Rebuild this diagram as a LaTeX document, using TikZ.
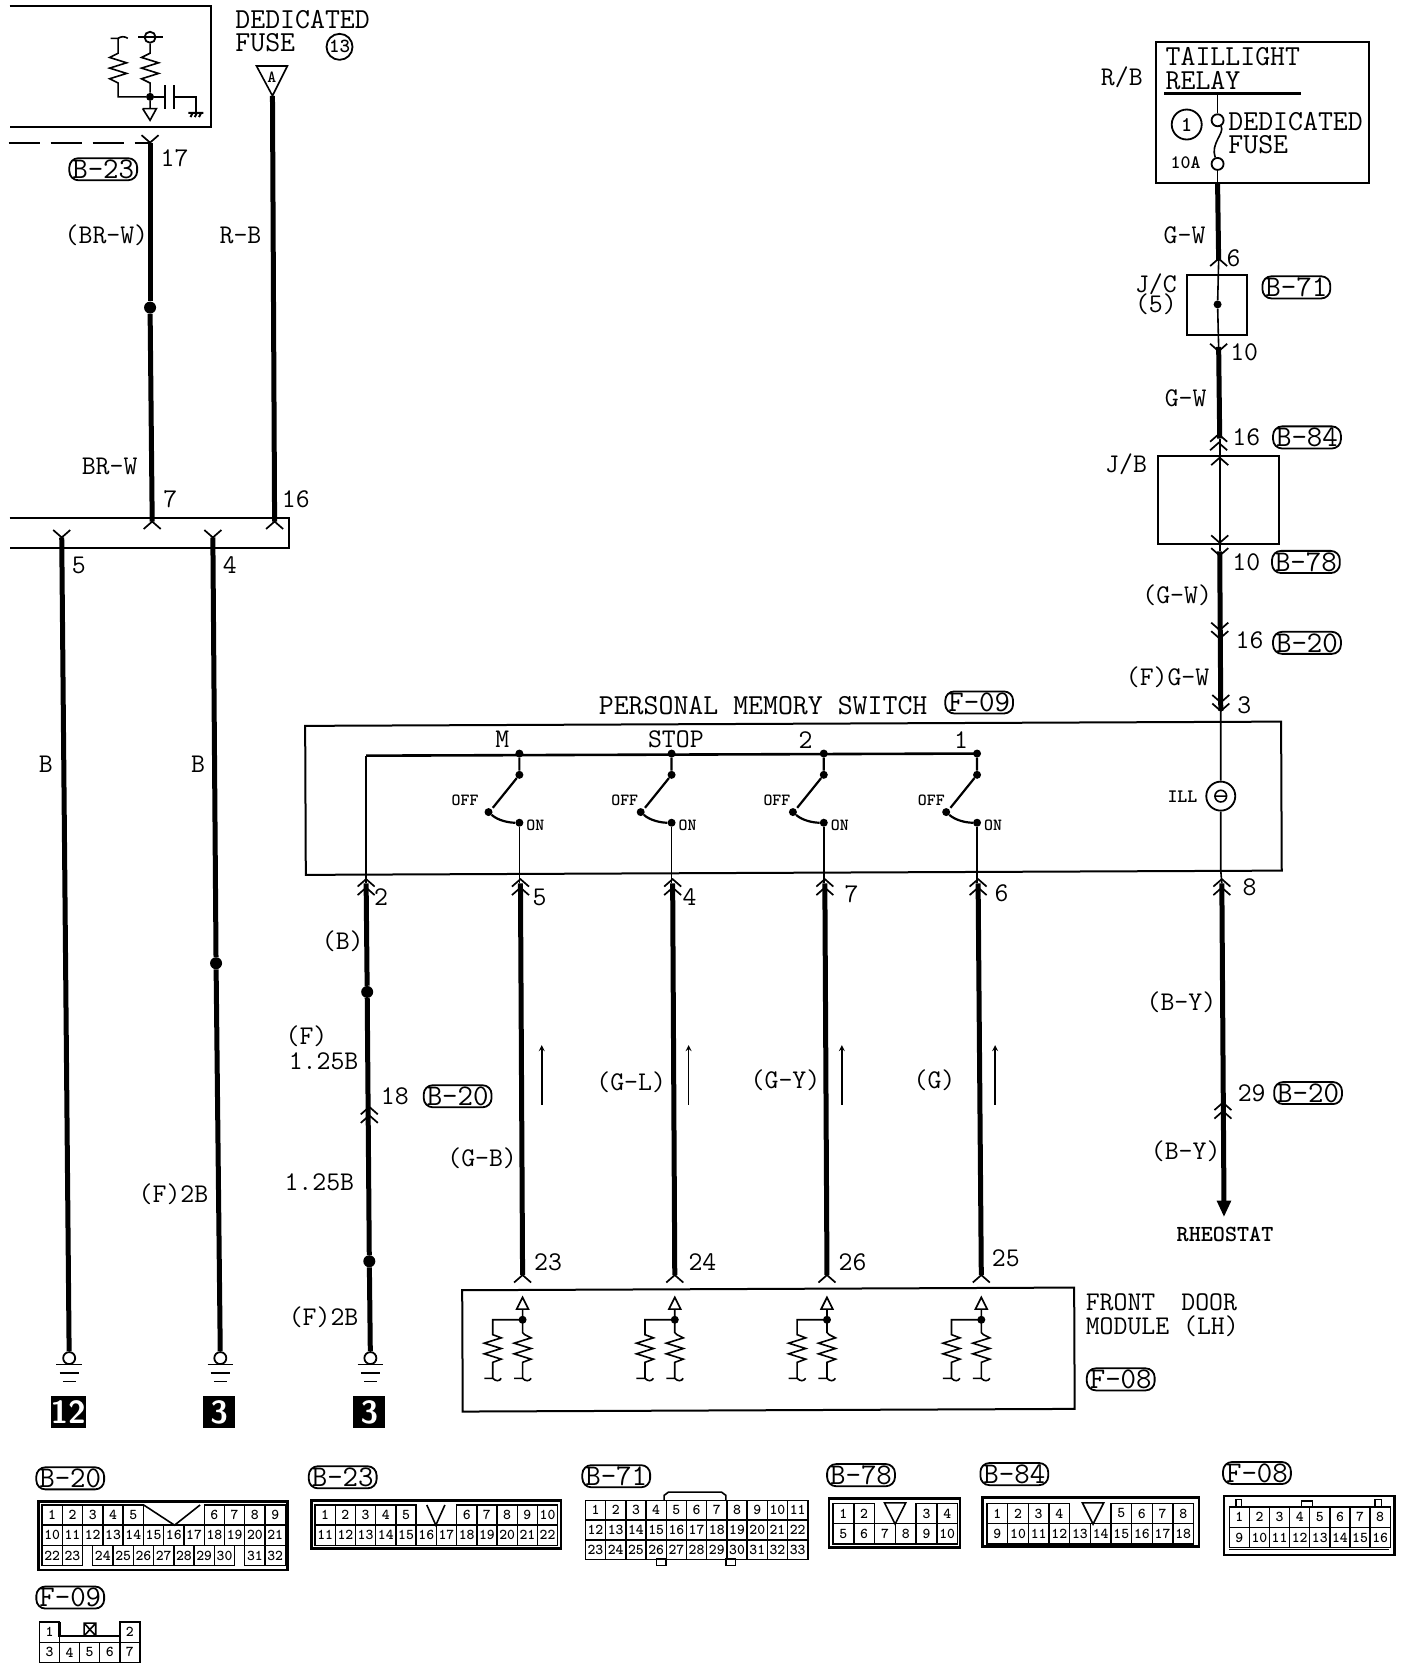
\documentclass[tikz,border=0pt]{standalone}
\usetikzlibrary{positioning}
\def\ux{1.0643pt}

\begin{document}
\begin{tikzpicture}
[x=1.0643pt,y=-1.0643pt,
  wireDecorate/.style={-,line width=5pt},%
  thinDecorate/.style={-,line width=1.6pt},%
  boxDecorate/.style={draw,line width=2pt,inner sep=0pt},%
  labelDecorate/.style={inner sep=0pt,font=\ttfamily\fontsize{27}{30}\selectfont},%
  bigDecorate/.style={inner sep=0pt,font=\ttfamily\fontsize{29}{30}\selectfont},%
  smallDecorate/.style={inner sep=0pt,font=\ttfamily\bfseries\fontsize{17}{20}\selectfont},%
  tagDecorate/.style={draw,line width=1.8pt,rounded corners=9pt,inner xsep=3pt,inner ysep=1.5pt,font=\ttfamily\fontsize{30}{24}\selectfont},%
  pinDecorate/.style={draw,line width=1.4pt,inner sep=0pt,font=\ttfamily\bfseries\fontsize{15}{15}\selectfont},%
  dotDecorate/.style={circle,fill=black,inner sep=0pt,minimum size=12pt},%
  tinyDot/.style={circle,fill=black,inner sep=0pt,minimum size=8pt},%
  ringDecorate/.style={circle,draw,line width=1.8pt,fill=white,inner sep=0pt,minimum size=12pt},%
  forkUp/.pic={\draw[line width=1.7pt] (-8,7) -- (0,0) -- (8,7);},%
  forkDown/.pic={\draw[line width=1.7pt] (-8,-7) -- (0,0) -- (8,-7);},%
  zigPair/.pic={\draw[line width=1.7pt,fill=white] (-5.5,-10) -- (5.5,-10) -- (0,-21) -- cycle;
    \draw[thinDecorate] (0,-10) -- (0,12) -- (2,14) -- (8,17) -- (-8,22) -- (8,27) -- (-8,32) -- (8,37) -- (0,40) -- (0,55)
      (-8,55) -- (0,55) .. controls (3,58) and (6,58) .. (8,55);
    \draw[thinDecorate] (0,0) -- (-28,0) -- (-28,14) -- (-20,17) -- (-36,22) -- (-20,27) -- (-36,32) -- (-20,37) -- (-28,40) -- (-28,55)
      (-36,55) -- (-28,55) .. controls (-25,58) and (-22,58) .. (-20,55);
    \node[tinyDot] at (0,0) {};}]

%% wire ends and chain points
\foreach \nodename/\x/\y in {p17/141/134, p7/143/490, pfuse/256/90, p16/258/490,
  p5/58/505, p4/200/505, pbtwo/344/830, ptwo/344/822, prail/344/710,
  pfive/489/830, pfour/632/830, pseven/775/830, psix/919/830,
  pa/491/1198, pb/634/1198, pc/777/1198, pd/922/1198,
  pgw/1144/172, pgwa/1145/245, pgwb/1145/326, pgwc/1146/412, pgwd/1146/518, pgwe/1147/668,
  pswtop/1147/678, pswbot/1147/818, pby/1148/830, pbyend/1150/1130,
  ptop/1144/88, pfusea/1144/172}
{
  \coordinate (\nodename) at (\x,\y);
}

%% junctions
\foreach \nodename/\x/\y in {dotA/141/289, dotB/203/905, dotC/345/932, dotD/347/1185}
{
  \node (\nodename) at (\x,\y) [dotDecorate] {};
}
\node (dotE) at (1144,286) [tinyDot] {};

%% ground symbols
\foreach \nodename/\x/\y/\num in {gndA/65/1276/12, gndB/207/1276/3, gndC/348/1276/3}
{
  \node (\nodename) at (\x,\y) [ringDecorate] {};
  \draw[line width=1.8pt] (\x-12,\y+6) -- (\x+12,\y+6);
  \draw[line width=2.4pt] (\x-9,\y+14) -- (\x+9,\y+14);
  \draw[line width=1.8pt] (\x-6,\y+22) -- (\x+6,\y+22);
  \node (box\nodename) at (\x-1,\y+51) [fill=black,text=white,minimum size=32pt,inner sep=0pt,
    font=\sffamily\bfseries\fontsize{32}{32}\selectfont] {\num};
}

%% boxes
\foreach \nodename/\x/\y/\w/\h/\r in {relayBox/1186/105.5/200/133/0, jcBox/1143.5/286.5/57/57/0, jbBox/1145/469.5/114/83/0,
  switchBox/745.5/750/917/140/0.25, doorBox/722/1268/575/114/0.25}
{
  \node (\nodename) at (\x,\y) [boxDecorate,rotate=\r,minimum width=\w*\ux,minimum height=\h*\ux] {};
}
\draw[boxDecorate] (9,6) -- (198,6) -- (198,119) -- (9,119);
\draw[boxDecorate] (9,487) -- (272,487) -- (272,515) -- (9,515);

%% unit inside the top box
\node (ringTop) at (141,35) [ringDecorate,minimum size=11pt] {};
\node (capDot) at (141,91) [tinyDot] {};
\draw[thinDecorate] (130,35) -- (153,35);
\draw[thinDecorate] (ringTop) -- (141,50) -- (133,54) -- (149,59) -- (133,64) -- (149,69) -- (133,74) -- (141,78) -- (capDot);
\draw[thinDecorate] (104,36) -- (111,36) -- (111,50) -- (103,54) -- (119,59) -- (103,64) -- (119,69) -- (103,74) -- (111,78) -- (111,91) -- (capDot);
\draw[thinDecorate] (111,36) .. controls (114,34) and (117,34) .. (120,36);
\draw[thinDecorate] (capDot) -- (141,102) (134,102) -- (147,102) -- (141,113) -- (134,102);
\draw[thinDecorate] (capDot) -- (155,91) (155,80) -- (155,102) (163.5,80) -- (163.5,102) (163.5,91) -- (184,91) -- (184,105);
\draw[line width=2pt] (177,106) -- (191,106) (179,110) -- (181,106) (183,110) -- (185,106) (187,110) -- (189,106);

%% dashed shield line
\draw[boxDecorate,dash pattern=on 31pt off 11pt] (8,134) -- (p17);

%% thick wires
\path
\foreach \startnode/\endnode in {p17/dotA, dotA/p7, pfuse/p16, p5/gndA, p4/dotB, dotB/gndB,
  pbtwo/dotC, dotC/dotD, dotD/gndC, pfive/pa, pfour/pb, pseven/pc, psix/pd,
  pgw/pgwa, pgwb/pgwc, pgwd/pgwe, pby/pbyend}
{
  (\startnode) edge[wireDecorate] (\endnode)
};
\fill (1143,1128) -- (1157,1128) -- (1150,1143) -- cycle;

%% personal memory switch
\draw[line width=2.6pt] (prail) -- (918,708);
\draw[thinDecorate] (prail) -- (ptwo) -- (pbtwo);
\foreach \nodename/\x/\off in {swM/488/51, swS/631/44, swT/774/44, swO/918/43}
{
  \node (\nodename top) at (\x,708) [tinyDot] {};
  \node (\nodename arm) at (\x,728) [tinyDot] {};
  \node (\nodename piv) at (\x-29,763) [tinyDot] {};
  \node (\nodename on) at (\x,773) [tinyDot] {};
  \node (\nodename off) at (\x-\off,752) [smallDecorate] {OFF};
  \node (\nodename lbl) at (\x+15,775) [smallDecorate] {ON};
  \draw[thinDecorate,line width=2.2pt] (\nodename top) -- (\nodename arm) -- (\x-25,759);
  \draw[thinDecorate,line width=2.2pt] (\nodename piv) .. controls (\x-20,771) and (\x-10,773) .. (\nodename on);
  \draw[thinDecorate] (\nodename on) -- (\x,820) -- (\x,830);
}

%% lamp and fuse
\node (lamp) at (1147,748) [circle,draw,line width=1.8pt,inner sep=0pt,minimum size=29pt] {};
\draw[thinDecorate] (pgwe) -- (pswtop) -- (lamp) -- (pswbot) -- (pby);
\draw[line width=1.6pt] (1147,748) circle (5.5) (1141,748) -- (1153,748);
\node (fuseA) at (1144,113) [ringDecorate] {};
\node (fuseB) at (1144,154) [ringDecorate] {};
\draw[line width=3pt] (1094,88) -- (1222,88);
\draw[thinDecorate] (ptop) -- (fuseA);
\draw[thinDecorate] (fuseA) .. controls (1151,125) and (1137,135) .. (fuseB);
\draw[thinDecorate] (fuseB) -- (pfusea);
\draw[thinDecorate] (pgwa) -- (dotE) -- (pgwb);
\draw[thinDecorate] (pgwc) -- (pgwd);

%% dedicated fuse triangle
\node (fuseTip) at (255.5,73) [smallDecorate] {A};
\draw[thinDecorate] (241,62) -- (270,62) -- (pfuse) -- cycle;

%% connector forks
\foreach \x/\y in {143/490, 258/490, 344/826, 344/834, 489/826, 489/834, 632/826, 632/834, 775/826, 775/834,
  919/826, 919/834, 347/1040, 347/1048, 491/1198, 634/1198, 777/1198, 922/1198, 1145/243, 1145/408, 1145/416,
  1146/430, 1148/826, 1148/834, 1149/1036, 1149/1044}
{
  \pic at (\x,\y) {forkUp};
}
\foreach \x/\y in {141/134, 58/505, 200/505, 1145/330, 1146/510, 1146/522, 1146/592, 1146/600, 1147/660, 1147/668}
{
  \pic at (\x,\y) {forkDown};
}

%% thin arrows
\foreach \nodename/\x in {arrA/509, arrB/647, arrC/791, arrD/935}
{
  \coordinate (\nodename a) at (\x,1038);
  \coordinate (\nodename b) at (\x,982);
  \draw[thinDecorate,-stealth] (\nodename a) -- (\nodename b);
}

%% front door module
\foreach \x in {491, 634, 777, 922}
{
  \pic at (\x,1240) {zigPair};
}

%% texts
\foreach \x/\y/\txt [count=\i] in {164/149/17, 100/221/(BR-W), 226/221/R-B, 103/438/BR-W, 160/469/7, 278/469/16,
  74/531/5, 216/531/4, 43/718/B, 186/718/B, 163/1122/(F)2B, 358/843/2, 322/884/(B), 288/974/(F), 304/997/1.25B,
  371/1030/18, 300/1111/1.25B, 304/1238/(F)2B, 507/843/5, 648/843/4, 800/840/7, 941/839/6, 515/1186/23, 660/1186/24,
  801/1186/26, 945/1182/25, 453/1088/(G-B), 593/1017/(G-L), 738/1015/(G-Y), 878/1015/(G), 472/695/M, 635/695/STOP,
  757/695/2, 903/695/1, 1054/73/{R/B}, 1113/221/G-W, 1159/243/6, 1086/267/{J/C}, 1086/286/(5),
  1169/331/10, 1114/374/G-W, 1171/411/16, 1058/436/{J/B}, 1171/528/10, 1106/559/(G-W), 1174/602/16, 1097/636/(F)G-W,
  1169/663/3, 1174/834/8, 1110/942/(B-Y), 1176/1027/29, 1114/1082/(B-Y)}
{
  \node (txt\i) at (\x,\y) [labelDecorate] {\txt};
}
\node (switchName) at (717,663) [bigDecorate] {PERSONAL MEMORY SWITCH};
\foreach \x/\y/\txt [count=\i] in {221/18/DEDICATED, 221/40/FUSE, 1095/53/TAILLIGHT, 1095/76/RELAY, 1154/114/DEDICATED,
  1154/136/FUSE}
{
  \node (left\i) at (\x,\y) [bigDecorate,anchor=west] {\txt};
}
\node (doorA) at (1020,1224) [labelDecorate,anchor=west] {FRONT\hspace{.45em} DOOR};
\node (doorB) at (1020,1246) [labelDecorate,anchor=west] {MODULE (LH)};
\node (illText) at (1111,749) [smallDecorate,font=\ttfamily\bfseries\fontsize{19}{20}\selectfont] {ILL};
\node (tenA) at (1114,153) [smallDecorate,font=\ttfamily\bfseries\fontsize{19}{20}\selectfont] {10A};
\node (rheostat) at (1151,1160) [labelDecorate,font=\ttfamily\bfseries\fontsize{23}{24}\selectfont] {RHEOSTAT};
\node (circA) at (319,44) [circle,draw,line width=1.8pt,inner sep=0pt,minimum size=26pt,font=\ttfamily\bfseries\fontsize{20}{20}\selectfont] {13};
\node (circB) at (1115,117) [circle,draw,line width=1.8pt,inner sep=0pt,minimum size=30pt,font=\ttfamily\bfseries\fontsize{21}{21}\selectfont] {1};

%% connector tags
\foreach \x/\y/\txt [count=\i] in {97/159/B-23, 430/1030/B-20, 920/660/F-09, 1218/270/B-71, 1228/411/B-84, 1227/528/B-78,
  1228/604/B-20, 1229/1027/B-20, 1053/1296/F-08, 66/1389/B-20, 322/1388/B-23, 579/1387/B-71, 809/1386/B-78, 953/1385/B-84,
  1181/1384/F-08, 66/1501/F-09}
{
  \node (tag\i) at (\x,\y) [tagDecorate] {\txt};
}

%% connector bodies
\foreach \nodename/\x/\y/\w/\h in {bodyA/153/1443/234/64, bodyB/409.8/1432.5/234.4/45, bodyC/840.5/1431/123/46,
  bodyD/1024.8/1430/203.6/46, bodyE/1230/1433.3/160/55.4}
{
  \node (\nodename) at (\x,\y) [boxDecorate,line width=2.6pt,minimum width=\w*\ux,minimum height=\h*\ux] {};
}
%% connector pins
\foreach \pre/\xo/\yo/\cw/\ch/\col/\first/\last in {b20/39.5/1423.5/19.05/19/0/1/5, b20/39.5/1423.5/19.05/19/8/6/9,
  b20/39.5/1442.5/19.05/19/0/10/21, b20/39.5/1461.5/19.05/19/0/22/23, b20/39.5/1461.5/19.05/19/2.5/24/30, b20/39.5/1461.5/19.05/19/10/31/32,
  b23/296/1423.5/19/19/0/1/5, b23/296/1423.5/19/19/7/6/10, b23/296/1442.5/19/19/0/11/22,
  b71/550/1419/19/18.5/0/1/11, b71/550/1437.5/19/18.5/0/12/22, b71/550/1456/19/18.5/0/23/33,
  b78/782.7/1422/19.5/19/0/1/2, b78/782.7/1422/19.5/19/4/3/4, b78/782.7/1441/19.5/19/0/5/10,
  b84/927.4/1422/19.4/19/0/1/4, b84/927.4/1422/19.4/19/6/5/8, b84/927.4/1441/19.4/19/0/9/18,
  f08/1155/1425.5/18.9/19/0/1/8, f08/1155/1444.5/18.9/19/0/9/16,
  f09/37/1533.5/18.9/19/0/1/1, f09/37/1533.5/18.9/19/4/2/2, f09/37/1552.5/18.9/19/0/3/7}
{
  \foreach \pin in {\first,...,\last}
  {
    \pgfmathsetmacro{\cx}{\xo+(\col+\pin-\first+0.5)*\cw}
    \node (\pre-\pin) at (\cx,\yo) [pinDecorate,minimum width=\cw*\ux,minimum height=\ch*\ux] {\pin};
  }
}
%% key ways
\draw[thinDecorate] (135,1414) -- (164,1433) -- (188,1414);
\draw[thinDecorate] (401,1414) -- (409.5,1433) -- (418,1414);
\draw[thinDecorate] (831,1412) -- (841,1432) -- (851,1412) -- cycle;
\draw[thinDecorate] (1017,1412) -- (1027,1432) -- (1037,1412) -- cycle;
\draw[line width=2.4pt] (55.9,1524) -- (55.9,1537) -- (112.6,1537) -- (112.6,1524);
\draw[line width=1.6pt] (79,1525) rectangle (90,1537) (79,1525) -- (90,1537) (90,1525) -- (79,1537);
\draw[thinDecorate] (624,1410) -- (624,1405) -- (628,1402) -- (678,1402) -- (682,1405) -- (682,1410);
\draw[line width=1.6pt] (617,1465) rectangle (626,1471) (682,1465) rectangle (691,1471);
\draw[line width=1.6pt] (1155,1456) -- (1305,1456);
\draw[line width=1.6pt] (1161.5,1416) -- (1161.5,1409) -- (1166.5,1409) -- (1166.5,1416)
  (1223,1416) -- (1223,1410) -- (1233,1410) -- (1233,1416) (1292,1416) -- (1292,1409) -- (1298,1409) -- (1298,1416);

\useasboundingbox (0,0) rectangle (1323,1567.2);
\end{tikzpicture}
\end{document}
